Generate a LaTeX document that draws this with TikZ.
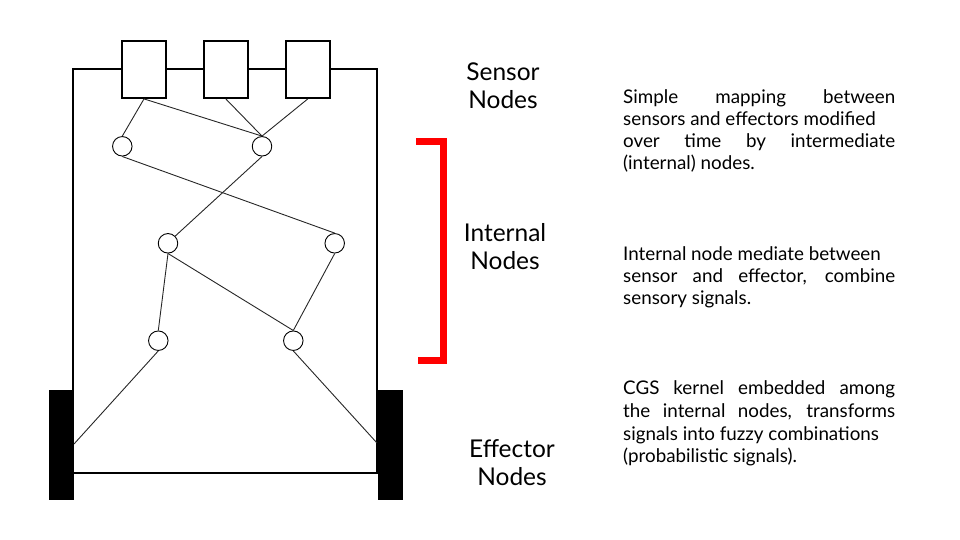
\documentclass[tikz,border=0pt]{standalone}
\usepackage{fontspec}
\setmainfont{Lato}
\newcommand\spreadline[1]{\makebox[272pt][s]{#1}}
\begin{document}
\begin{tikzpicture}[x=1pt,y=-1pt,
  frame/.style={line width=2pt},
  sensorbox/.style={draw,line width=1.8pt,fill=white,minimum width=44pt,minimum height=57pt,inner sep=0pt},
  inode/.style={draw,circle,line width=0.9pt,fill=white,minimum size=19.5pt,inner sep=0pt},
  wheel/.style={fill=black,minimum width=25pt,minimum height=110pt,inner sep=0pt},
  link/.style={line width=0.9pt,draw=black!85},
  label/.style={font=\fontsize{24.5}{28}\selectfont,align=center},
  rtext/.style={font=\fontsize{18.8}{22}\selectfont,anchor=base west,inner sep=0pt},
]
\path[use as bounding box] (0,0) rectangle (960,540);
% body
\draw[frame] (73,69) rectangle (377,473);
% wheels
\node[wheel] (wheelL) at (61.5,445) {};
\node[wheel] (wheelR) at (390,445) {};
% sensors
\node[sensorbox] (s1) at (144,69.5) {};
\node[sensorbox] (s2) at (225.8,69.5) {};
\node[sensorbox] (s3) at (307.8,69.5) {};
% internal nodes
\node[inode] (a1) at (122.3,146.3) {};
\node[inode] (a2) at (262,146.3) {};
\node[inode] (b1) at (168,243.3) {};
\node[inode] (b2) at (334.7,243.3) {};
\node[inode] (c1) at (158.3,340.7) {};
\node[inode] (c2) at (293.3,340.7) {};
\coordinate (effL) at (74,444);
\coordinate (effR) at (377,443);
% connectors
\draw[link] (s1.south) -- (a1.north);
\draw[link] (s1.south) -- (a2.north);
\draw[link] (s2.south) -- (a2.north);
\draw[link] (s3.south) -- (a2.north);
\draw[link] (a1.south) -- (b2.north);
\draw[link] (a2.south) -- (b1.north east);
\draw[link] (b1.south) -- (c1.north);
\draw[link] (b1.south) -- (c2.north);
\draw[link] (b2.south) -- (c2.north);
\draw[link] (c1.south) -- (effL);
\draw[link] (c2.south) -- (effR);
% red bracket
\draw[red,line width=6.5pt] (416,141.5) -- (443.5,141.5) -- (443.5,360.5) -- (418,360.5);
% labels
\node[label] (lsensor) at (503,85.5) {Sensor\\Nodes};
\node[label] (linternal) at (505,246.5) {Internal\\Nodes};
\node[label] (leffector) at (512,463) {Effector\\Nodes};
% right texts
\node[rtext] (p1a) at (623,104) {\spreadline{Simple mapping between}};
\node[rtext] (p1b) at (623,126) {sensors and effectors modified};
\node[rtext] (p1c) at (623,148) {\spreadline{over time by intermediate}};
\node[rtext] (p1d) at (623,170) {(internal) nodes.};
\node[rtext] (p2a) at (623,260) {Internal node mediate between};
\node[rtext] (p2b) at (623,282) {\spreadline{sensor and effector, combine}};
\node[rtext] (p2c) at (623,304) {sensory signals.};
\node[rtext] (p3a) at (623,394) {\spreadline{CGS kernel embedded among}};
\node[rtext] (p3b) at (623,417) {\spreadline{the internal nodes, transforms}};
\node[rtext] (p3c) at (623,440) {signals into fuzzy combinations};
\node[rtext] (p3d) at (623,462) {(probabilistic signals).};
\end{tikzpicture}
\end{document}
